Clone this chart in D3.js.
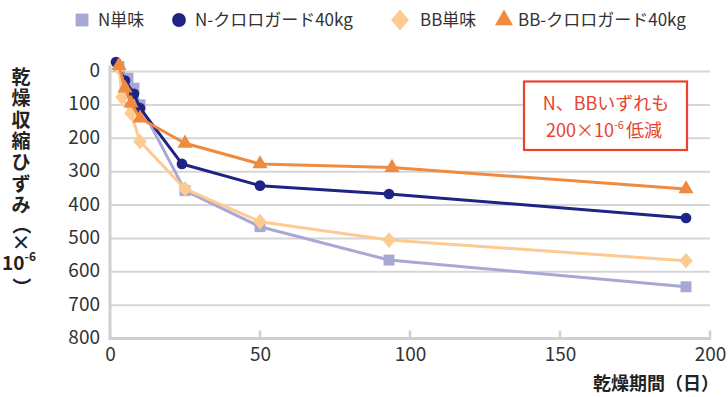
<!DOCTYPE html>
<html><head><meta charset="utf-8">
<script src="https://cdn.jsdelivr.net/npm/d3@7"></script>
<style>
body{margin:0;background:#fff;}
svg{display:block;font-family:"Noto Sans CJK JP","Noto Sans",sans-serif;}
</style></head>
<body><svg id="c" width="728" height="397"></svg>
<script>
// ---- data ----
const seriesNames = ["N単味","N-クロロガード40kg","BB単味","BB-クロロガード40kg"];
const nPlainDays   = [3, 6, 8, 10, 25, 50, 93, 192];
const nPlainVals   = [-15, 20, 50, 100, 357, 465, 565, 645];
const nGuardDays   = [2, 5, 8, 10, 24, 50, 93, 192];
const nGuardVals   = [-28, 27, 67, 110, 277, 342, 367, 439];
const bbPlainDays  = [3, 4, 7, 10, 25, 50, 93, 192];
const bbPlainVals  = [-10, 77, 125, 210, 352, 450, 505, 567];
const bbGuardDays  = [3, 5, 7, 10, 25, 50, 94, 192];
const bbGuardVals  = [-18, 50, 95, 140, 215, 277, 288, 352];
const xTicks = [0, 50, 100, 150, 200];
const yTicks = [0, 100, 200, 300, 400, 500, 600, 700, 800];

const colors = ["#a7a9d4","#1f2383","#fdca92","#f08a3e"];

// custom diamond (slightly taller than wide)
const diamondType = {
  draw(ctx, size){
    const hh = Math.sqrt(size/1.7), hw = hh*0.85;
    ctx.moveTo(0,-hh); ctx.lineTo(hw,0); ctx.lineTo(0,hh); ctx.lineTo(-hw,0); ctx.closePath();
  }
};
const shapes = [d3.symbolSquare, d3.symbolCircle, diamondType, d3.symbolTriangle];
const sizes = [120, 90, 105, 100];
const legSizes = [165, 150, 190, 140];

const series = [
  {days:nPlainDays, vals:nPlainVals},
  {days:nGuardDays, vals:nGuardVals},
  {days:bbPlainDays, vals:bbPlainVals},
  {days:bbGuardDays, vals:bbGuardVals}
];

const svg = d3.select("#c");
const x = d3.scaleLinear().domain([0,200]).range([110,710]);
const y = d3.scaleLinear().domain([0,800]).range([71.5,338.5]);

// gridlines
svg.append("g").selectAll("line").data(yTicks.filter(v=>v<800)).join("line")
  .attr("x1",x(0)).attr("x2",x(200)).attr("y1",d=>y(d)).attr("y2",d=>y(d))
  .attr("stroke","#d6d6d6").attr("stroke-width",2);

// x tick marks (inside)
svg.append("g").selectAll("line").data(xTicks).join("line")
  .attr("x1",d=>x(d)).attr("x2",d=>x(d)).attr("y1",y(800)-8).attr("y2",y(800)+1)
  .attr("stroke","#d0d0d0").attr("stroke-width",2.5);
// axes lines
svg.append("line").attr("x1",x(0)).attr("x2",x(200)+1).attr("y1",y(800)).attr("y2",y(800))
  .attr("stroke","#d0d0d0").attr("stroke-width",3);
svg.append("line").attr("x1",x(0)).attr("x2",x(0)).attr("y1",y(0)-6).attr("y2",y(800)+1.5)
  .attr("stroke","#d0d0d0").attr("stroke-width",3);

// tick labels through axes
const yAxis = d3.axisLeft(y).tickValues(yTicks).tickSize(0).tickPadding(0);
const gy = svg.append("g").attr("transform",`translate(${x(0)-10},-1)`).call(yAxis);
gy.select(".domain").remove();
gy.selectAll("text").attr("font-size",19).attr("fill","#333").attr("font-family","Noto Sans CJK JP");

const xAxis = d3.axisBottom(x).tickValues(xTicks).tickSize(0).tickPadding(0);
const gx = svg.append("g").attr("transform",`translate(0,${y(800)+9})`).call(xAxis);
gx.select(".domain").remove();
gx.selectAll("text").attr("font-size",19).attr("fill","#333").attr("font-family","Noto Sans CJK JP");

// annotation box
const box = svg.append("g");
box.append("rect").attr("x",524).attr("y",81.5).attr("width",163).attr("height",68.5)
  .attr("fill","#fff").attr("stroke","#e8432d").attr("stroke-width",2.2);
box.append("text").attr("x",606).attr("y",110).attr("text-anchor","middle")
  .attr("font-size",18).attr("fill","#e8432d").text("N、BBいずれも");
const t2 = box.append("text").attr("x",604).attr("y",137).attr("text-anchor","middle")
  .attr("font-size",18).attr("fill","#e8432d");
t2.append("tspan").text("200×10");
t2.append("tspan").attr("font-size",11).attr("dy",-8).text("-6");
t2.append("tspan").attr("dy",8).attr("dx",2).text("低減");

// lines and markers
const line = d3.line();
series.forEach((s,i)=>{
  const pts = s.days.map((d,j)=>[x(d), y(s.vals[j])]);
  svg.append("path").attr("d",line(pts)).attr("fill","none")
    .attr("stroke",colors[i]).attr("stroke-width",3).attr("stroke-linejoin","round");
  svg.append("g").selectAll("path").data(pts).join("path")
    .attr("transform",p=>`translate(${p[0]},${p[1]})`)
    .attr("d",d3.symbol().type(shapes[i]).size(sizes[i]))
    .attr("fill",colors[i]);
});

// legend
const legX = [82, 179, 400, 504];
const legTextX = [98, 195, 420, 518];
const leg = svg.append("g");
seriesNames.forEach((n,i)=>{
  leg.append("path").attr("transform",`translate(${legX[i]},20)`)
    .attr("d",d3.symbol().type(shapes[i]).size(legSizes[i])).attr("fill",colors[i]);
  leg.append("text").attr("x",legTextX[i]).attr("y",20).attr("dy","0.35em")
    .attr("font-size",17).attr("fill","#333").text(n);
});

// y axis title (vertical)
const yt = svg.append("g").attr("font-weight",700).attr("font-size",19).attr("fill","#222")
  .attr("text-anchor","middle");
const yChars = ["乾","燥","収","縮","ひ","ず","み"];
yChars.forEach((c,i)=>{
  yt.append("text").attr("x",21).attr("y",77+i*21.4).attr("dy","0.36em").text(c);
});
yt.append("text").attr("x",21).attr("y",225).attr("dy","0.36em")
  .attr("transform","rotate(90,21,225)").text("（");
yt.append("text").attr("x",21).attr("y",243).attr("dy","0.36em").text("×");
const ten = yt.append("text").attr("x",19).attr("y",263).attr("dy","0.36em");
ten.append("tspan").text("10");
ten.append("tspan").attr("font-size",12).attr("dy",-9).text("-6");
yt.append("text").attr("x",21).attr("y",287).attr("dy","0.36em")
  .attr("transform","rotate(90,21,287)").text("）");

// x axis title
svg.append("text").attr("x",719).attr("y",390).attr("text-anchor","end")
  .attr("font-weight",700).attr("font-size",18).attr("fill","#222").text("乾燥期間（日）");
</script></body></html>
